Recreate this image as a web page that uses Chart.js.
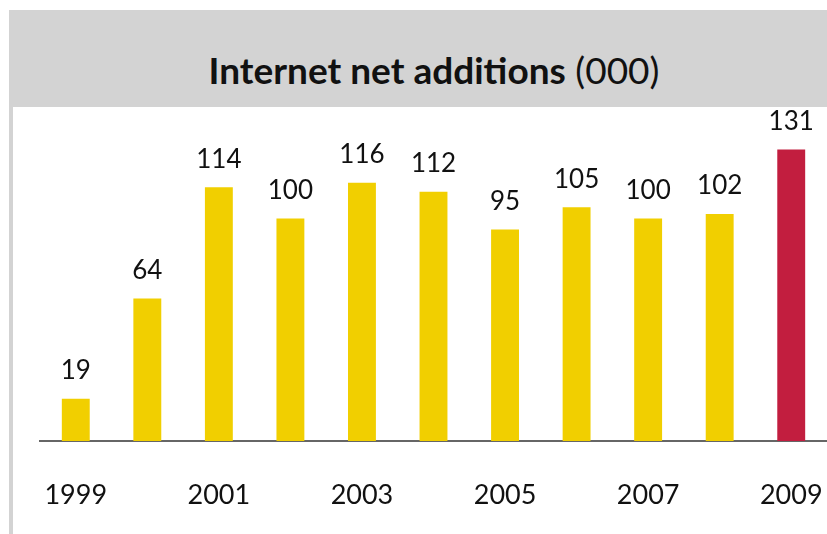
<!DOCTYPE html>
<html>
<head>
<meta charset="utf-8">
<script src="https://cdn.jsdelivr.net/npm/chart.js@4"></script>
<style>
  html, body { margin: 0; padding: 0; background: #fff; }
  body { width: 827px; height: 534px; position: relative; overflow: hidden; font-family: Lato, sans-serif; }
  #banda { position: absolute; left: 9px; top: 10px; right: 0; height: 97px; background: #d3d3d3; }
  #borde { position: absolute; left: 9px; top: 107px; width: 4px; bottom: 0; background: #d3d3d3; }
  #titulo { position: absolute; left: 0; width: 868px; top: 50px; text-align: center;
            font-size: 37px; line-height: 40px; color: #111; }
  #titulo b { font-weight: 700; }
  #titulo span { font-weight: 400; }
  #grafica { position: absolute; left: 0; top: 0; }
</style>
</head>
<body>
<div id="banda"></div>
<div id="borde"></div>
<div id="titulo"><b>Internet net additions</b> <span>(000)</span></div>
<canvas id="grafica" width="827" height="534"></canvas>
<script>
const anios = ["1999", "2000", "2001", "2002", "2003", "2004", "2005", "2006", "2007", "2008", "2009"];
const altasNetas = [19, 64, 114, 100, 116, 112, 95, 105, 100, 102, 131];
const etiquetasEje = ["1999", "", "2001", "", "2003", "", "2005", "", "2007", "", "2009"];

const amarillo = "#f1cf00";
const rojo = "#c21e3f";
const colores = altasNetas.map((v, i) => (i === altasNetas.length - 1 ? rojo : amarillo));

// escribe el valor encima de cada barra
const valoresEncima = {
  id: "valoresEncima",
  afterDatasetsDraw(chart) {
    const ctx = chart.ctx;
    const meta = chart.getDatasetMeta(0);
    ctx.save();
    ctx.font = "26px Lato";
    ctx.fillStyle = "#111";
    ctx.textAlign = "center";
    ctx.textBaseline = "middle";
    meta.data.forEach((barra, i) => {
      ctx.fillText(String(altasNetas[i]), barra.x, barra.y - 28);
    });
    ctx.restore();
  },
};

const $grafica = document.querySelector("#grafica");

new Chart($grafica, {
  type: "bar",
  data: {
    labels: anios,
    datasets: [
      {
        label: "Internet net additions",
        data: altasNetas,
        backgroundColor: colores,
        borderWidth: 0,
        categoryPercentage: 1,
        barPercentage: 0.39,
      },
    ],
  },
  options: {
    responsive: false,
    animation: false,
    layout: {
      padding: { top: 116, left: 40, right: 0, bottom: 24 },
    },
    scales: {
      x: {
        grid: { display: false, drawTicks: false },
        border: { display: true, color: "#666", width: 2 },
        ticks: {
          autoSkip: false,
          maxRotation: 0,
          padding: 38,
          color: "#111",
          font: { family: "Lato", size: 27 },
          callback: (valor, indice) => etiquetasEje[indice],
        },
        // el eje ocupa todo el ancho y una altura fija
        afterFit: (eje) => {
          eje.paddingLeft = 0;
          eje.paddingRight = 0;
          eje.height = 69;
        },
      },
      y: {
        display: false,
        min: 0,
        max: 146,
      },
    },
    plugins: {
      legend: { display: false },
      tooltip: { enabled: false },
    },
  },
  plugins: [valoresEncima],
});
</script>
</body>
</html>
